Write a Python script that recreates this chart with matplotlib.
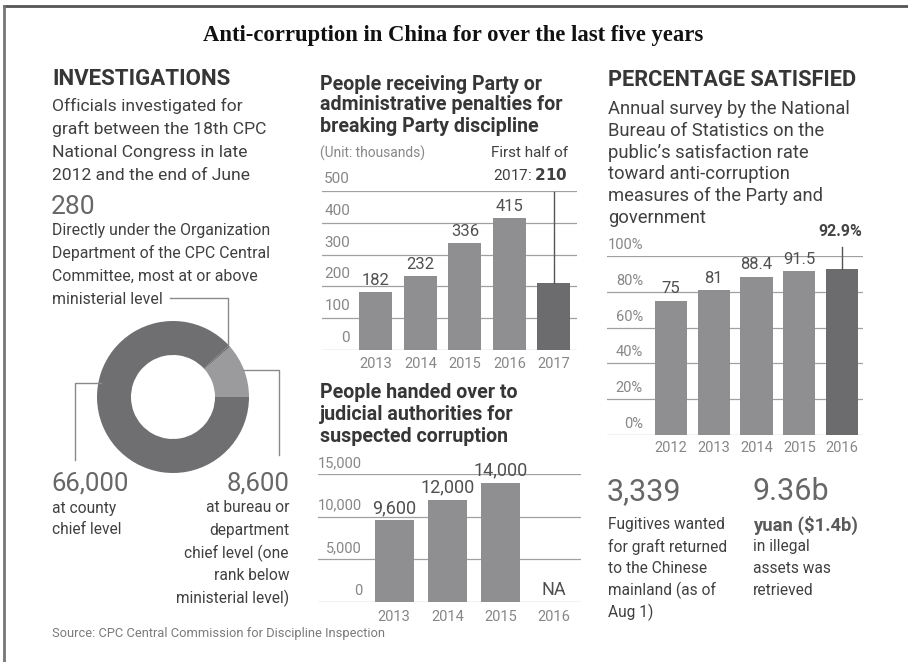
import matplotlib
matplotlib.use("Agg")
import matplotlib.pyplot as plt
from matplotlib.lines import Line2D
from matplotlib.transforms import blended_transform_factory

plt.rcParams['font.family'] = ['Roboto', 'DejaVu Sans']

# ---------------- data ----------------
donut_labels = ["bureau/department chief", "ministerial", "county chief"]
donut_values = [8600, 280, 66000]

pen_years = ["2013", "2014", "2015", "2016", "2017"]
pen_values = [182, 232, 336, 415, 210]
pen_ticks = [0, 100, 200, 300, 400, 500]

jud_years = ["2013", "2014", "2015", "2016"]
jud_values = [9600, 12000, 14000, None]
jud_ticks = [0, 5000, 10000, 15000]
jud_tick_labels = ["0", "5,000", "10,000", "15,000"]
jud_value_labels = ["9,600", "12,000", "14,000", "NA"]

sat_years = ["2012", "2013", "2014", "2015", "2016"]
sat_values = [75, 81, 88.4, 91.5, 92.9]
sat_ticks = [0, 20, 40, 60, 80, 100]
sat_value_labels = ["75", "81", "88.4", "91.5"]

# ---------------- layout helpers ----------------
W, H = 908, 662
fig = plt.figure(figsize=(W / 100, H / 100), dpi=100)
fig.patch.set_facecolor("white")

def fx(x):
    return x / W

def fy(y):
    return 1 - y / H

def txt(x, y, s, size, color="#444444", weight="normal", ha="left", va="center", family=None):
    kw = {}
    if family is not None:
        kw["family"] = family
    fig.text(fx(x), fy(y), s, fontsize=size, color=color, weight=weight, ha=ha, va=va, **kw)

def fline(xs, ys, color="#999999", lw=1.0):
    fig.add_artist(Line2D([fx(v) for v in xs], [fy(v) for v in ys], color=color, lw=lw,
                          transform=fig.transFigure))

def add_ax(x0, ytop, x1, ybot):
    ax = fig.add_axes([fx(x0), fy(ybot), (x1 - x0) / W, (ybot - ytop) / H])
    ax.set_facecolor("none")
    for s in ax.spines.values():
        s.set_visible(False)
    ax.set_xticks([])
    ax.set_yticks([])
    return ax

HEAD = "#363636"
BODY = "#404040"
BIG = "#676767"
TICK = "#878787"
GRID = "#a0a0a0"
BAR = "#8f8f91"
BARD = "#6c6c6e"
VAL = "#505050"

# frame (top and left edges)
fline([4, 908], [6, 6], color="#555555", lw=2)
fline([4, 4], [6, 662], color="#777777", lw=2)

# title
txt(453, 36, "Anti-corruption in China for over the last five years", 16.3, color="#111111",
    weight="bold", ha="center", family=["Liberation Serif", "DejaVu Serif"])

# ---------------- left panel ----------------
txt(52, 79, "INVESTIGATIONS", 16, color=HEAD, weight="bold")
for i, s in enumerate(["Officials investigated for", "graft between the 18th CPC",
                       "National Congress in late", "2012 and the end of June"]):
    txt(52, 106 + i * 23, s, 12.6, color=BODY)
txt(51, 207, "280", 19, color=BIG)
for i, s in enumerate(["Directly under the Organization", "Department of the CPC Central",
                       "Committee, most at or above", "ministerial level"]):
    txt(52, 230 + i * 23, s, 11.4, color=BODY)

# donut
dax = fig.add_axes([fx(173 - 76), fy(397 + 76), 152 / W, 152 / H])
dax.set_aspect("equal")
dax.pie(donut_values, colors=["#9b9b9d", "#6f6f71", "#6f6f71"], startangle=0,
        counterclock=True, radius=1.0,
        wedgeprops=dict(width=34 / 76, edgecolor="none"))
dax.set_xlim(-1.0, 1.0)
dax.set_ylim(-1.0, 1.0)
dax.axis("off")

# leader lines
fline([170, 228, 228], [298, 298, 344], color="#8a8a8a", lw=1)
fline([101, 75, 75], [383, 383, 460], color="#8a8a8a", lw=1)
fline([243, 279, 279], [370, 370, 455], color="#8a8a8a", lw=1)

txt(51, 483, "66,000", 18.5, color=BIG)
txt(52, 508, "at county", 11.2, color=BODY)
txt(52, 530, "chief level", 11.2, color=BODY)
txt(289, 483, "8,600", 18.5, color=BIG, ha="right")
for i, s in enumerate(["at bureau or", "department", "chief level (one", "rank below",
                       "ministerial level)"]):
    txt(289, 508 + i * 22.5, s, 11.2, color=BODY, ha="right")

txt(52, 634, "Source: CPC Central Commission for Discipline Inspection", 9.3, color="#7a7a7a")

# ---------------- middle top chart ----------------
for i, s in enumerate(["People receiving Party or", "administrative penalties for",
                       "breaking Party discipline"]):
    txt(320, 84 + i * 21, s, 14.1, color=HEAD, weight="bold")
txt(320, 153, "(Unit: thousands)", 9.9, color=TICK)
txt(568, 153, "First half of", 11, color=BODY, ha="right")
fig.text(fx(568), fy(175), "2017: $\\mathbf{210}$", fontsize=11, color=BODY, ha="right", va="center")

ax1 = add_ax(322, 191, 577, 350)
x1 = list(range(len(pen_years)))
ax1.set_xlim(-1.21, 4.52)
ax1.set_ylim(0, 500)
for t in pen_ticks:
    ax1.axhline(t, color=GRID, lw=0.9, zorder=0)
tr1 = blended_transform_factory(ax1.transAxes, ax1.transData)
for t in pen_ticks:
    ax1.annotate(str(t), xy=(0.11, t), xycoords=tr1, xytext=(0, 12), textcoords="offset pixels",
                 ha="right", va="center", fontsize=11, color=TICK, annotation_clip=False)
ax1.bar(x1, pen_values, width=0.74, color=[BAR] * 4 + [BARD], zorder=2)
for xi, v in zip(x1[:-1], pen_values[:-1]):
    ax1.annotate(str(v), xy=(xi, v), xytext=(0, 12), textcoords="offset pixels",
                 ha="center", va="center", fontsize=12, color=VAL, annotation_clip=False)
ax1.plot([x1[-1], x1[-1]], [pen_values[-1], 497], color="#555555", lw=1, zorder=3, clip_on=False)
for xi, y in zip(x1, pen_years):
    ax1.annotate(y, xy=(xi, 0), xytext=(0, -14), textcoords="offset pixels", ha="center",
                 va="center", fontsize=10.5, color=TICK, annotation_clip=False)

# ---------------- middle bottom chart ----------------
for i, s in enumerate(["People handed over to", "judicial authorities for",
                       "suspected corruption"]):
    txt(320, 393 + i * 22, s, 14.1, color=HEAD, weight="bold")

ax2 = add_ax(318, 474, 581, 602)
x2 = list(range(len(jud_years)))
ax2.set_xlim(-1.43, 3.51)
ax2.set_ylim(0, 15000)
for t in jud_ticks:
    ax2.axhline(t, color=GRID, lw=0.9, zorder=0)
tr2 = blended_transform_factory(ax2.transAxes, ax2.transData)
for t, lab in zip(jud_ticks, jud_tick_labels):
    ax2.annotate(lab, xy=(44 / 263, t), xycoords=tr2, xytext=(0, 11), textcoords="offset pixels",
                 ha="right", va="center", fontsize=10.5, color=TICK, annotation_clip=False)
vals2 = [v if v is not None else 0 for v in jud_values]
ax2.bar(x2, vals2, width=0.73, color=BAR, zorder=2)
for xi, v, lab in zip(x2, jud_values, jud_value_labels):
    yv = v if v is not None else 0
    ax2.annotate(lab, xy=(xi, yv), xytext=(0, 12), textcoords="offset pixels",
                 ha="center", va="center", fontsize=13, color=VAL, annotation_clip=False)
for xi, y in zip(x2, jud_years):
    ax2.annotate(y, xy=(xi, 0), xytext=(0, -15), textcoords="offset pixels", ha="center",
                 va="center", fontsize=10.5, color=TICK, annotation_clip=False)

# ---------------- right panel ----------------
txt(608, 80, "PERCENTAGE SATISFIED", 15.7, color=HEAD, weight="bold")
for i, s in enumerate(["Annual survey by the National", "Bureau of Statistics on the",
                       "public\u2019s satisfaction rate", "toward anti-corruption",
                       "measures of the Party and", "government"]):
    txt(608, 109 + i * 21.8, s, 13.2, color=BODY)
txt(862, 232, "92.9%", 11.5, color="#444444", weight="bold", ha="right")

ax3 = add_ax(607, 256, 863, 435)
x3 = list(range(len(sat_years)))
ax3.set_xlim(-1.495, 4.49)
ax3.set_ylim(0, 100)
for t in sat_ticks:
    ax3.axhline(t, color=GRID, lw=0.9, zorder=0)
tr3 = blended_transform_factory(ax3.transAxes, ax3.transData)
for t in sat_ticks:
    ax3.annotate(f"{t}%", xy=(36 / 256, t), xycoords=tr3, xytext=(0, 11), textcoords="offset pixels",
                 ha="right", va="center", fontsize=10.5, color=TICK, annotation_clip=False)
ax3.bar(x3, sat_values, width=0.75, color=[BAR] * 4 + [BARD], zorder=2)
for xi, v, lab in zip(x3, sat_values, sat_value_labels):
    ax3.annotate(lab, xy=(xi, v), xytext=(0, 12), textcoords="offset pixels",
                 ha="center", va="center", fontsize=12, color=VAL, annotation_clip=False)
ax3.plot([x3[-1], x3[-1]], [sat_values[-1], 105], color="#555555", lw=1, zorder=3, clip_on=False)
for xi, y in zip(x3, sat_years):
    ax3.annotate(y, xy=(xi, 0), xytext=(0, -13), textcoords="offset pixels", ha="center",
                 va="center", fontsize=10.5, color=TICK, annotation_clip=False)

# bottom right facts
txt(607, 492, "3,339", 22, color=BIG)
for i, s in enumerate(["Fugitives wanted", "for graft returned", "to the Chinese",
                       "mainland (as of", "Aug 1)"]):
    txt(608, 525 + i * 21.8, s, 11.2, color=BODY)
txt(752, 492, "9.36b", 22, color=BIG)
txt(753, 525, "yuan ($1.4b)", 13.2, color="#5a5a5a", weight="bold")
for i, s in enumerate(["in illegal", "assets was", "retrieved"]):
    txt(753, 547 + i * 21.8, s, 11.2, color=BODY)

fig.savefig("out.png", dpi=100, facecolor="white")
